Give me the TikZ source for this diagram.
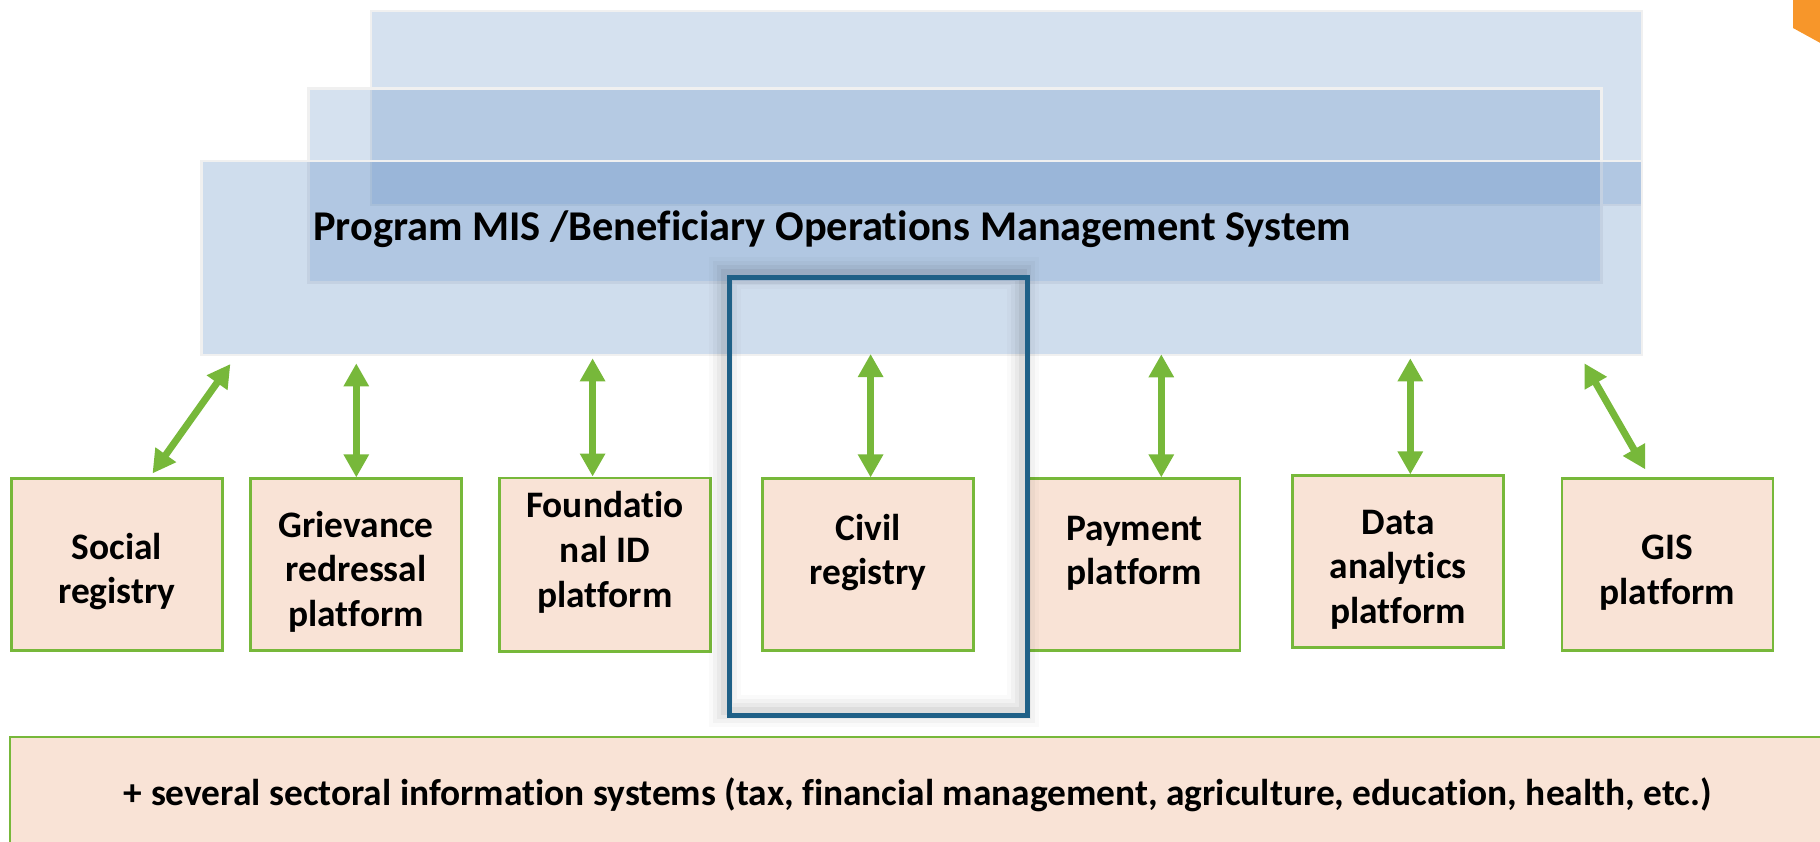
\documentclass[tikz,border=0pt]{standalone}
\usepackage{fontspec}
\setmainfont{Carlito}[Ligatures={TeX,NoCommon}]
\usetikzlibrary{arrows.meta}

\definecolor{misblue}{HTML}{4F81BD}
\definecolor{rim}{HTML}{F0F0F0}
\definecolor{peach}{HTML}{F9E3D6}
\definecolor{leaf}{HTML}{77B83A}
\definecolor{frameblue}{HTML}{1F6087}
\definecolor{corner}{HTML}{F7962A}

\newcommand{\boxstrut}{\rule{0pt}{20pt}}

\tikzset{
	layer/.style={draw=rim, line width=1.25pt, fill=misblue, anchor=north west, minimum height=97pt, inner sep=0pt},
	sysbox/.style={draw=leaf, line width=1.25pt, fill=peach, font=\fontsize{18.7pt}{22.3pt}\selectfont\bfseries, align=center, minimum width=105.5pt, minimum height=86pt, inner sep=0pt},
	link/.style={leaf, line width=3.5pt, {Triangle[length=11.5pt,width=12pt]}-{Triangle[length=11.5pt,width=12pt]}},
	focus/.style={draw=frameblue, line width=2.5pt, minimum width=149pt, minimum height=219pt, inner sep=0pt}
}

\begin{document}
\begin{tikzpicture}[x=0.5pt,y=-0.5pt]
	\useasboundingbox (0,0) rectangle (1820,841);
	\fill[corner] (1793,-4) -- (1793,28) -- (1824,45) -- (1824,-4) -- cycle;

	% stacked MIS layers
	\node[layer, fill opacity=.24, minimum width=635.5pt] (back) at (369.8,9.6) {};
	\node[layer, fill opacity=.24, minimum width=646.6pt] (middle) at (307.2,87.3) {};
	\node[layer, fill opacity=.27, minimum width=720.2pt] (mis) at (200.3,159.6) {};
	\node[anchor=base west, inner sep=0pt, font=\fontsize{21.2pt}{25pt}\selectfont\bfseries] (title) at (313,240.7) {Program MIS /Beneficiary Operations Management System};

	% platforms
	\node[sysbox] (social) at (116.9,564.7) {\boxstrut Social\\registry};
	\node[sysbox] (griev) at (356.1,564.7) {\boxstrut Grievance\\redressal\\platform};
	\node[sysbox] (found) at (604.8,564.7) {\boxstrut Foundatio\\nal ID\\platform\\\mbox{}};
	\node[sysbox] (civil) at (868,564.7) {\boxstrut Civil\\registry\\\mbox{}};
	\node[sysbox] (pay) at (1134.4,564.7) {\boxstrut Payment\\platform\\\mbox{}};
	\node[sysbox] (data) at (1398.1,561.7) {\boxstrut Data\\analytics\\platform};
	\node[sysbox] (gis) at (1667.4,564.7) {\boxstrut GIS\\platform};

	\node[sysbox, anchor=north west, minimum width=908pt, minimum height=58pt] (sectoral) at (8.6,735.6) {+ several sectoral information systems (tax, financial management, agriculture, education, health, etc.)};

	% highlighted civil registry
	\foreach \w/\o in {16/.02,12/.03,8/.04,4/.05}
		\draw[black, opacity=\o, line width=\w pt] (725,273) rectangle (1023,711);
	\node[focus] (frame) at (878.5,496.5) {};

	% links to the MIS
	\coordinate (m1) at (230.4,364);
	\coordinate (m2) at (356.3,363.3);
	\coordinate (m3) at (592.6,358.3);
	\coordinate (m4) at (870.6,354);
	\coordinate (m5) at (1161.3,354.3);
	\coordinate (m6) at (1410.3,358.3);
	\coordinate (m7) at (1584.4,363.3);

	\draw[link] (m1) -- ([shift={(17.8pt,2pt)}]social.north);
	\draw[link] (m2) -- (m2 |- griev.north);
	\draw[link] (m3) -- (m3 |- found.north);
	\draw[link] (m4) -- (m4 |- civil.north);
	\draw[link] (m5) -- (m5 |- pay.north);
	\draw[link] (m6) -- (m6 |- data.north);
	\draw[link] (m7) -- ([shift={(-11pt,4pt)}]gis.north);
\end{tikzpicture}
\end{document}
